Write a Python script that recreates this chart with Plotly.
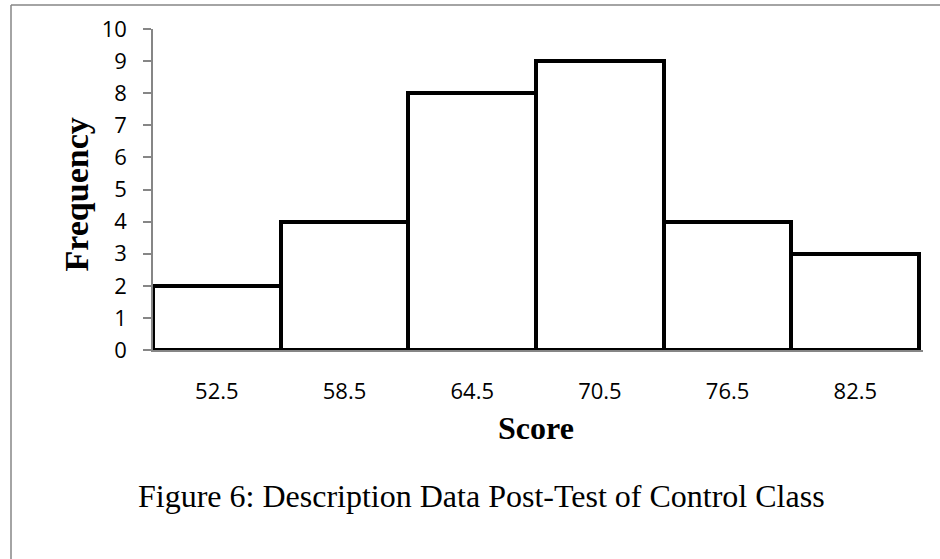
import plotly.graph_objects as go

# Data
categories = ["52.5", "58.5", "64.5", "70.5", "76.5", "82.5"]
frequency = [2, 4, 8, 9, 4, 3]
y_ticks = list(range(0, 11))

W, H = 940, 559
L, T = 153, 29
R_PX = 923
B_PX = 350
plot_w = R_PX - L
plot_h = B_PX - T


def px_x(px):
    return (px - L) / plot_w


def px_y(py):
    return (B_PX - py) / plot_h


fig = go.Figure()
fig.add_trace(go.Bar(
    x=categories,
    y=frequency,
    marker=dict(color="white", line=dict(color="black", width=4)),
    width=1.0,
    hoverinfo="skip",
))

axis_gray = "#868686"
fig.update_layout(
    width=W, height=H,
    margin=dict(l=L, r=W - R_PX, t=T, b=H - B_PX, pad=0),
    paper_bgcolor="white", plot_bgcolor="white",
    showlegend=False,
    bargap=0,
    xaxis=dict(
        type="category",
        range=[-0.5, 5.53],
        showgrid=False, zeroline=False,
        showline=True, linecolor=axis_gray, linewidth=1.5,
        ticks="", ticklabelstandoff=21,
        tickfont=dict(family="Open Sans", size=22, color="black"),
    ),
    yaxis=dict(
        range=[0, 10],
        tickvals=y_ticks,
        showgrid=False, zeroline=False,
        showline=True, linecolor=axis_gray, linewidth=1.5,
        ticks="outside", ticklen=8, tickcolor=axis_gray, tickwidth=1.5,
        ticklabelstandoff=12,
        tickfont=dict(family="Open Sans", size=22, color="black"),
    ),
    annotations=[
        dict(text="<b>Frequency</b>", textangle=-90, showarrow=False,
             xref="paper", yref="paper", x=px_x(76), y=px_y(194.5),
             xanchor="center", yanchor="middle",
             font=dict(family="Liberation Serif", size=34, color="black")),
        dict(text="<b>Score</b>", showarrow=False,
             xref="paper", yref="paper", x=px_x(535.5), y=px_y(427.5),
             xanchor="center", yanchor="middle",
             font=dict(family="Liberation Serif", size=32, color="black")),
        dict(text="Figure 6: Description Data Post-Test of Control Class", showarrow=False,
             xref="paper", yref="paper", x=px_x(481), y=px_y(496),
             xanchor="center", yanchor="middle",
             font=dict(family="Liberation Serif", size=32, color="black")),
    ],
    shapes=[
        dict(type="line", xref="paper", yref="paper",
             x0=px_x(11), x1=px_x(11), y0=px_y(5), y1=px_y(H + 5),
             line=dict(color=axis_gray, width=1.5)),
        dict(type="line", xref="paper", yref="paper",
             x0=px_x(11), x1=px_x(W + 5), y0=px_y(5), y1=px_y(5),
             line=dict(color=axis_gray, width=1.5)),
    ],
)

fig.write_html("out.html", config={"displayModeBar": False})
